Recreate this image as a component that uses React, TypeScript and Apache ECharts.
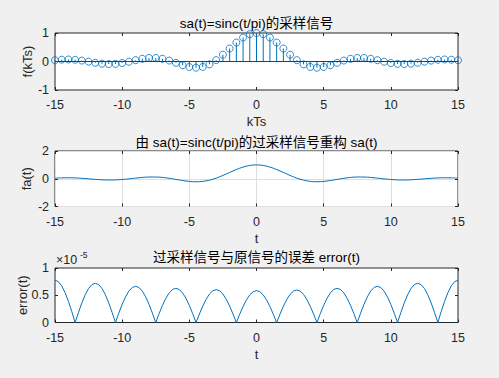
import React, { useEffect, useRef } from "react";
import * as echarts from "echarts";

// ---------- data ----------
// sample instants kT (Ts = 0.5), from -15 to 15
const sampleStart = -15;
const sampleStep = 0.5;
const sampleValues = [
  0.043, 0.064, 0.071, 0.06, 0.032, -0.005, -0.045, -0.076, -0.091, -0.084,
  -0.054, -0.008, 0.046, 0.094, 0.124, 0.125, 0.094, 0.033, -0.047, -0.128,
  -0.192, -0.217, -0.189, -0.1, 0.047, 0.239, 0.455, 0.665, 0.841, 0.959,
  1.0,
  0.959, 0.841, 0.665, 0.455, 0.239, 0.047, -0.1, -0.189, -0.217, -0.192,
  -0.128, -0.047, 0.033, 0.094, 0.125, 0.124, 0.094, 0.046, -0.008, -0.054,
  -0.084, -0.091, -0.076, -0.045, -0.005, 0.032, 0.06, 0.071, 0.064, 0.043,
];
// reconstructed signal fa(t), read at the same instants
const reconValues = sampleValues.slice();
// error(t) in units of 1e-5, read every 0.25 from -15 to 15
const errorStart = -15;
const errorStep = 0.25;
const errorValues = [
  0.776, 0.75, 0.672, 0.549, 0.388, 0.201, 0,
  0.186, 0.36, 0.509, 0.624, 0.696, 0.72, 0.696, 0.624, 0.509, 0.36, 0.186, 0,
  0.172, 0.333, 0.47, 0.576, 0.642, 0.665, 0.642, 0.576, 0.47, 0.333, 0.172, 0,
  0.162, 0.314, 0.443, 0.543, 0.606, 0.627, 0.606, 0.543, 0.443, 0.314, 0.162, 0,
  0.156, 0.302, 0.426, 0.522, 0.582, 0.603, 0.582, 0.522, 0.426, 0.302, 0.156, 0,
  0.152, 0.293, 0.414, 0.507, 0.565, 0.585, 0.565, 0.507, 0.414, 0.293, 0.152, 0,
  0.154, 0.298, 0.421, 0.516, 0.576, 0.596, 0.576, 0.516, 0.421, 0.298, 0.154, 0,
  0.162, 0.314, 0.443, 0.543, 0.606, 0.627, 0.606, 0.543, 0.443, 0.314, 0.162, 0,
  0.172, 0.333, 0.47, 0.576, 0.642, 0.665, 0.642, 0.576, 0.47, 0.333, 0.172, 0,
  0.186, 0.36, 0.509, 0.624, 0.696, 0.72, 0.696, 0.624, 0.509, 0.36, 0.186, 0,
  0.201, 0.388, 0.549, 0.672, 0.75, 0.776,
];

const titles = [
  "sa(t)=sinc(t/pi)的采样信号",
  "由 sa(t)=sinc(t/pi)的过采样信号重构 sa(t)",
  "过采样信号与原信号的误差 error(t)",
];
const xNames = ["kTs", "t", "t"];
const yNames = ["f(kTs)", "fa(t)", "error(t)"];
const yRanges = [
  [-1, 1, 1],
  [-2, 2, 2],
  [0, 1, 0.5],
];

// ---------- styling ----------
const FONT = "'Liberation Sans', Arial, 'Noto Sans CJK SC', sans-serif";
const BLUE = "#0072BD";
const INK = "#262626";
const GRID_LEFT = 55;
const GRID_WIDTH = 403;
const gridBoxes = [
  { top: 33, height: 57 },
  { top: 151, height: 55.5 },
  { top: 268, height: 54.5 },
];
const yNameGaps = [21, 22, 26];

export default function App() {
  const ref = useRef<HTMLDivElement>(null);

  useEffect(() => {
    if (!ref.current) return;
    const chart = echarts.init(ref.current, undefined, { renderer: "svg" });

    const samplePairs = sampleValues.map((v, i) => [sampleStart + i * sampleStep, v]);
    const reconPairs = reconValues.map((v, i) => [sampleStart + i * sampleStep, v]);
    const errorPairs = errorValues.map((v, i) => [errorStart + i * errorStep, v]);

    const grid = gridBoxes.map((g) => ({
      left: GRID_LEFT,
      width: GRID_WIDTH,
      top: g.top,
      height: g.height,
      show: true,
      backgroundColor: "#ffffff",
      borderColor: INK,
      borderWidth: 1,
      containLabel: false,
    }));

    const tick = { show: true, inside: true, length: 3, lineStyle: { color: INK } };
    const xAxis: any[] = [];
    const yAxis: any[] = [];
    gridBoxes.forEach((_, gi) => {
      const showGrid = gi === 1;
      xAxis.push({
        type: "value",
        gridIndex: gi,
        min: -15,
        max: 15,
        interval: 5,
        position: "bottom",
        axisLine: { show: false, onZero: false },
        axisTick: tick,
        axisLabel: { color: INK, fontSize: 12.5, fontFamily: FONT, margin: 9 },
        splitLine: { show: showGrid, lineStyle: { color: "#dedede", width: 1 } },
        name: xNames[gi],
        nameLocation: "middle",
        nameGap: 25,
        nameMoveOverlap: false,
        nameTextStyle: { color: INK, fontSize: 13, fontFamily: FONT },
      });
      xAxis.push({
        type: "value",
        gridIndex: gi,
        min: -15,
        max: 15,
        interval: 5,
        position: "top",
        axisLine: { show: false, onZero: false },
        axisTick: tick,
        axisLabel: { show: false },
        splitLine: { show: false },
      });
      const [ymin, ymax, yint] = yRanges[gi];
      yAxis.push({
        type: "value",
        gridIndex: gi,
        min: ymin,
        max: ymax,
        interval: yint,
        position: "left",
        axisLine: { show: false, onZero: false },
        axisTick: tick,
        axisLabel: { color: INK, fontSize: 12.5, fontFamily: FONT, margin: 6 },
        splitLine: { show: showGrid, lineStyle: { color: "#dedede", width: 1 } },
        name: yNames[gi],
        nameLocation: "middle",
        nameGap: yNameGaps[gi],
        nameMoveOverlap: false,
        nameTextStyle: { color: INK, fontSize: 13, fontFamily: FONT },
      });
      yAxis.push({
        type: "value",
        gridIndex: gi,
        min: ymin,
        max: ymax,
        interval: yint,
        position: "right",
        axisLine: { show: false, onZero: false },
        axisTick: tick,
        axisLabel: { show: false },
        splitLine: { show: false },
      });
    });

    const titleCenters = [23, 142, 257.5];
    const graphic: any[] = titles.map((t, i) => ({
      type: "text",
      x: GRID_LEFT + GRID_WIDTH / 2,
      y: titleCenters[i],
      style: {
        text: t,
        fontSize: 13.5,
        fontFamily: FONT,
        fill: "#000",
        align: "center",
        verticalAlign: "middle",
      },
    }));
    graphic.push({
      type: "text",
      x: 56,
      y: 260,
      style: { text: "×10", fontSize: 12.5, fontFamily: FONT, fill: INK, align: "left", verticalAlign: "middle" },
    });
    graphic.push({
      type: "text",
      x: 80,
      y: 255,
      style: { text: "-5", fontSize: 8.5, fontFamily: FONT, fill: INK, align: "left", verticalAlign: "middle" },
    });

    chart.setOption({
      animation: false,
      backgroundColor: "#f0f0f0",
      grid,
      xAxis,
      yAxis,
      graphic,
      series: [
        {
          type: "bar",
          xAxisIndex: 0,
          yAxisIndex: 0,
          data: samplePairs,
          barWidth: 1,
          itemStyle: { color: BLUE },
          silent: true,
          markLine: {
            silent: true,
            symbol: "none",
            label: { show: false },
            lineStyle: { color: "#3a3a3a", width: 1, type: "solid" },
            data: [{ yAxis: 0 }],
          },
        },
        {
          type: "scatter",
          xAxisIndex: 0,
          yAxisIndex: 0,
          data: samplePairs,
          symbol: "circle",
          symbolSize: 7,
          itemStyle: { color: "rgba(0,0,0,0)", borderColor: BLUE, borderWidth: 1 },
          silent: true,
        },
        {
          type: "line",
          xAxisIndex: 2,
          yAxisIndex: 2,
          data: reconPairs,
          smooth: 0.4,
          showSymbol: false,
          lineStyle: { color: BLUE, width: 1 },
          silent: true,
        },
        {
          type: "line",
          xAxisIndex: 4,
          yAxisIndex: 4,
          data: errorPairs,
          showSymbol: false,
          lineStyle: { color: BLUE, width: 1 },
          silent: true,
        },
      ],
    });

    return () => chart.dispose();
  }, []);

  return (
    <div
      ref={ref}
      style={{ position: "fixed", left: 0, top: 0, width: 499, height: 378 }}
    />
  );
}
